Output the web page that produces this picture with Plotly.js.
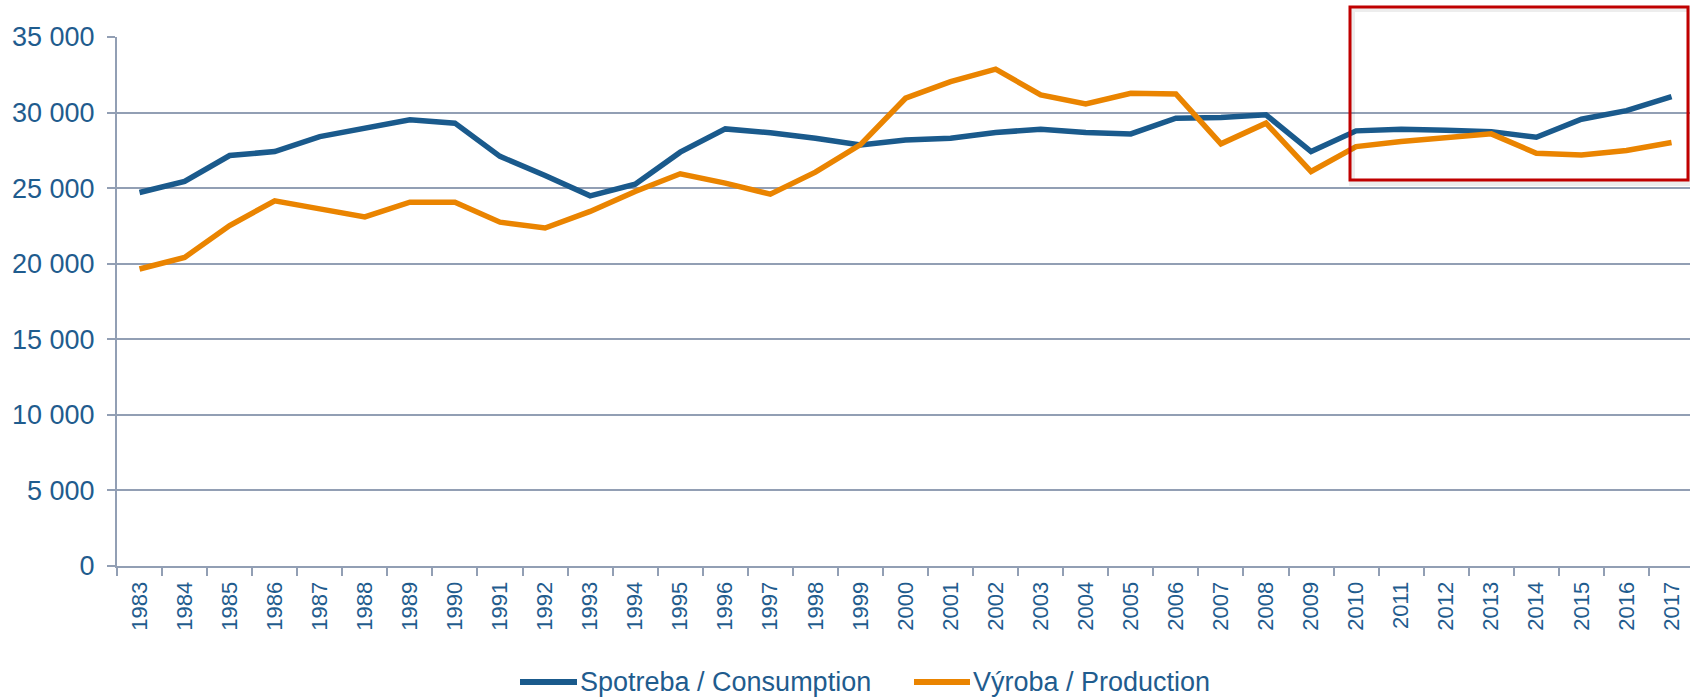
<!DOCTYPE html>
<html>
<head>
<meta charset="utf-8">
<script src="https://cdn.plot.ly/plotly-3.0.1.min.js"></script>
<style>
  html, body { margin: 0; padding: 0; background: #ffffff; }
  #chart { width: 1690px; height: 697px; }
</style>
</head>
<body>
<div id="chart"></div>
<script>
const years = ["1983","1984","1985","1986","1987","1988","1989","1990","1991","1992",
  "1993","1994","1995","1996","1997","1998","1999","2000","2001","2002",
  "2003","2004","2005","2006","2007","2008","2009","2010","2011","2012",
  "2013","2014","2015","2016","2017"];

const consumption = [24710, 25440, 27160, 27420, 28410, 28920, 29520, 29300, 27100, 25840,
  24490, 25260, 27380, 28920, 28660, 28300, 27860, 28190, 28300, 28680,
  28900, 28680, 28590, 29630, 29670, 29850, 27420, 28790, 28900, 28830,
  28740, 28370, 29560, 30130, 31060];

const production = [19650, 20420, 22530, 24160, 23630, 23100, 24070, 24070, 22750, 22360,
  23460, 24780, 25950, 25330, 24600, 26060, 27880, 30950, 32050, 32870,
  31170, 30570, 31280, 31230, 27930, 29300, 26100, 27750, 28080, 28330,
  28590, 27310, 27200, 27490, 28020];

const seriesNames = ["Spotreba / Consumption", "Výroba / Production"];
const seriesColors = ["#1A5A8C", "#EA8400"];

const textBlue = "#1F5C8E";
const gridCol = "#929FB4";
const fontFam = "'Liberation Sans', Arial, sans-serif";

const W = 1690, H = 697, ML = 117, MR = 0, MT = 37, MB = 131;
const plotW = W - ML - MR, plotH = H - MT - MB;
const px2x = p => (p - ML) / plotW;
const py2y = p => (H - MB - p) / plotH;

const traces = [
  { x: years, y: consumption, name: seriesNames[0], type: "scatter", mode: "lines",
    line: { color: seriesColors[0], width: 5.5 }, showlegend: false },
  { x: years, y: production, name: seriesNames[1], type: "scatter", mode: "lines",
    line: { color: seriesColors[1], width: 5.5 }, showlegend: false }
];

// custom legend (long line samples like the original)
const legendY = py2y(682);
const legendItems = [
  { x0: 520, x1: 577, tx: 578 },
  { x0: 914, x1: 970, tx: 971 }
];
const legendShapes = legendItems.map((it, i) => ({
  type: "line", xref: "paper", yref: "paper",
  x0: px2x(it.x0), x1: px2x(it.x1), y0: legendY, y1: legendY,
  line: { color: seriesColors[i], width: 6 }, layer: "above"
}));
const legendAnn = legendItems.map((it, i) => ({
  xref: "paper", yref: "paper", x: px2x(it.tx), y: legendY,
  xanchor: "left", yanchor: "middle", showarrow: false,
  text: seriesNames[i],
  font: { size: 27, color: textBlue, family: fontFam }
}));

const layout = {
  width: W, height: H,
  margin: { l: ML, r: MR, t: MT, b: MB, autoexpand: false },
  paper_bgcolor: "#ffffff", plot_bgcolor: "#ffffff",
  separators: ", ",
  font: { family: fontFam, color: textBlue },
  showlegend: false,
  xaxis: {
    type: "category",
    range: [-0.5, 34.41],
    tickson: "boundaries",
    ticks: "outside", ticklen: 8, tickwidth: 2, tickcolor: gridCol,
    showline: true, linecolor: gridCol, linewidth: 2,
    showgrid: false, zeroline: false,
    tickangle: -90,
    ticklabelstandoff: 5,
    tickfont: { size: 22, color: textBlue, family: fontFam },
    automargin: false,
    fixedrange: true
  },
  yaxis: {
    range: [0, 35000], dtick: 5000, tick0: 0,
    tickformat: ",d", separatethousands: true,
    ticks: "outside", ticklen: 8, tickwidth: 2, tickcolor: gridCol,
    showline: true, linecolor: gridCol, linewidth: 2,
    showgrid: true, gridcolor: gridCol, gridwidth: 2,
    zeroline: false,
    ticklabelstandoff: 7,
    tickfont: { size: 27, color: textBlue, family: fontFam },
    automargin: false,
    fixedrange: true
  },
  shapes: [
    { type: "rect", xref: "paper", yref: "paper",
      x0: px2x(1352), x1: px2x(1691), y0: py2y(183), y1: py2y(9),
      line: { color: "rgba(0,0,0,0.07)", width: 6 }, layer: "above" },
    { type: "rect", xref: "paper", yref: "paper",
      x0: px2x(1350), x1: px2x(1688), y0: py2y(180), y1: py2y(7),
      line: { color: "#C00000", width: 3 }, layer: "above" }
  ].concat(legendShapes),
  annotations: legendAnn
};

Plotly.newPlot("chart", traces, layout, { displayModeBar: false, staticPlot: true });
</script>
</body>
</html>
